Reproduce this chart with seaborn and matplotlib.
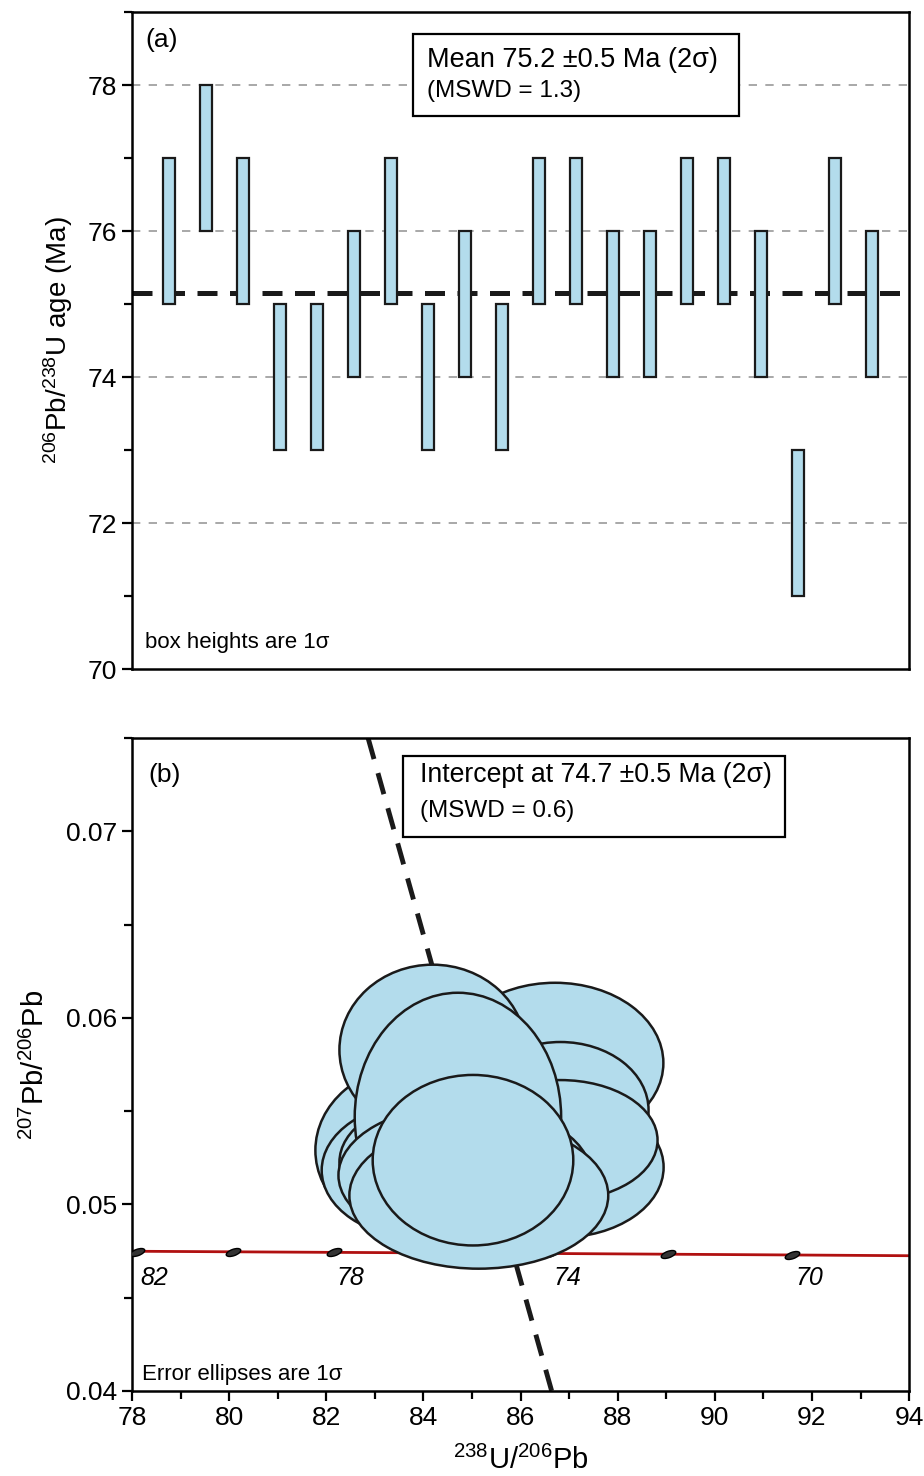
import numpy as np
import matplotlib
matplotlib.use("Agg")
import matplotlib.pyplot as plt
from matplotlib.patches import Ellipse, Rectangle
from matplotlib.markers import MarkerStyle
from matplotlib.transforms import Affine2D
import seaborn as sns
import pandas as pd

# (a) 206Pb/238U spot ages, box half-height = 1 sigma
spot_no = [1, 2, 3, 4, 5, 6, 7, 8, 9, 10, 11, 12, 13, 14, 15, 16, 17, 18, 19, 20]
spot_age = [76, 77, 76, 74, 74, 75, 76, 74, 75, 74, 76, 76, 75, 75, 76, 76, 75, 72, 76, 75]
spot_err = [1, 1, 1, 1, 1, 1, 1, 1, 1, 1, 1, 1, 1, 1, 1, 1, 1, 1, 1, 1]
mean_age = 75.15

# (b) Tera-Wasserburg error ellipses (drawn back to front)
ell_u = [86.71, 86.82, 86.82, 86.82, 83.84, 83.97, 84.19, 84.13, 84.71, 84.85, 85.14, 85.02]
ell_pb = [0.05758, 0.05505, 0.05199, 0.05344, 0.05290, 0.05183, 0.05828, 0.05226,
          0.05468, 0.05156, 0.05048, 0.05237]
ell_w = [4.46, 3.63, 4.25, 4.00, 4.13, 4.13, 3.84, 3.72, 4.25, 5.20, 5.33, 4.13]
ell_h = [0.0086, 0.00731, 0.00753, 0.00645, 0.00914, 0.00731, 0.00914, 0.00645,
         0.01333, 0.00753, 0.00785, 0.00914]

# concordia curve and age marks (Ma)
curve_u = [78.0, 82.15, 86.61, 91.59, 94.0]
curve_pb = [0.04749, 0.04743, 0.04737, 0.04729, 0.04725]
conc_age = [82, 80, 78, 76, 74, 72, 70]
conc_u = [78.11, 80.08, 82.15, 84.32, 86.61, 89.03, 91.59]
conc_pb = [0.04747, 0.04745, 0.04743, 0.04740, 0.04737, 0.04733, 0.04729]
label_age = [82, 78, 74, 70]

# discordia
disc_u = [82.86, 86.64]
disc_pb = [0.075, 0.040]

fill = "#b3dcec"

sns.set_style("ticks")
plt.rcParams["font.family"] = ["Liberation Sans", "DejaVu Sans"]
plt.rcParams["mathtext.fontset"] = "custom"
plt.rcParams["mathtext.rm"] = "Liberation Sans"
plt.rcParams["mathtext.default"] = "regular"
plt.rcParams["text.color"] = "black"
plt.rcParams["axes.labelcolor"] = "black"
plt.rcParams["xtick.color"] = "black"
plt.rcParams["ytick.color"] = "black"

fig = plt.figure(figsize=(9.24, 14.76), dpi=100)
ax1 = fig.add_axes([0.1429, 0.5467, 0.841, 0.4451])
ax2 = fig.add_axes([0.1429, 0.0576, 0.841, 0.4424])

for ax in (ax1, ax2):
    for s in ax.spines.values():
        s.set_linewidth(1.8)
        s.set_color("black")
    ax.tick_params(axis="both", which="both", direction="out", width=1.6,
                   labelsize=19, colors="black")
    ax.tick_params(which="major", length=7)
    ax.tick_params(which="minor", length=6)

# ---- panel (a)
for g in [72, 74, 76, 78]:
    ax1.axhline(g, color="#999999", lw=1.2, dashes=(5, 5), zorder=1)
ax1.axhline(mean_age, color="#1a1a1a", lw=3.6, dashes=(4, 2.5), zorder=2)
bottoms = [a - e for a, e in zip(spot_age, spot_err)]
heights = [2 * e for e in spot_err]
ax1.bar(spot_no, heights, bottom=bottoms, width=0.32, color=fill,
        edgecolor="#1a1a1a", linewidth=1.6, zorder=3)
ax1.set_xlim(0, 21)
ax1.set_ylim(70, 79)
ax1.set_xticks([])
ax1.set_yticks([70, 72, 74, 76, 78])
ax1.set_yticks([71, 73, 75, 77, 79], minor=True)
ax1.set_ylabel("$^{206}$Pb/$^{238}$U age (Ma)", fontsize=20, labelpad=9)

ax1.text(0.0167, 0.957, "(a)", transform=ax1.transAxes, fontsize=19, va="center")
ax1.add_patch(Rectangle((0.3616, 0.8417), 0.4196, 0.1248, transform=ax1.transAxes,
                        facecolor="white", edgecolor="black", lw=1.6, zorder=5))
ax1.text(0.3797, 0.927, "Mean 75.2 \u00b10.5 Ma (2\u03c3)", transform=ax1.transAxes,
         fontsize=19.5, va="center", zorder=6)
ax1.text(0.3797, 0.880, "(MSWD = 1.3)", transform=ax1.transAxes,
         fontsize=17.5, va="center", zorder=6)
ax1.text(0.0167, 0.040, "box heights are 1\u03c3", transform=ax1.transAxes,
         fontsize=16, va="center")

# ---- panel (b)
ax2.plot(disc_u, disc_pb, color="#1a1a1a", lw=3.5, dashes=(4.5, 3), zorder=1)
df_curve = pd.DataFrame({"u": curve_u, "pb": curve_pb})
sns.lineplot(data=df_curve, x="u", y="pb", ax=ax2, color="#b01010", lw=2,
             sort=False, zorder=2)
for x, y, w, h in zip(ell_u, ell_pb, ell_w, ell_h):
    ax2.add_patch(Ellipse((x, y), w, h, facecolor=fill, edgecolor="#1a1a1a",
                          lw=1.8, zorder=4))
mk = MarkerStyle("o", transform=Affine2D().scale(1.0, 0.42).rotate_deg(20))
ax2.plot(conc_u, conc_pb, ls="none", marker=mk, ms=11, color="#333333",
         mec="black", mew=1.0, zorder=3)
for a, x in zip(conc_age, conc_u):
    if a in label_age:
        ax2.text(x + 0.35, 0.04608, str(a), fontsize=18, style="italic",
                 ha="center", va="center")

ax2.set_xlim(78, 94)
ax2.set_ylim(0.04, 0.075)
ax2.set_xticks(np.arange(78, 95, 2))
ax2.set_xticks(np.arange(79, 94, 2), minor=True)
ax2.set_yticks([0.04, 0.05, 0.06, 0.07])
ax2.set_yticks([0.045, 0.055, 0.065, 0.075], minor=True)
ax2.set_yticklabels(["0.04", "0.05", "0.06", "0.07"])
ax2.set_xlabel("$^{238}$U/$^{206}$Pb", fontsize=21, labelpad=12)
ax2.set_ylabel("$^{207}$Pb/$^{206}$Pb", fontsize=21, labelpad=12)

ax2.text(0.0206, 0.943, "(b)", transform=ax2.transAxes, fontsize=19, va="center")
ax2.add_patch(Rectangle((0.3488, 0.8484), 0.4916, 0.124, transform=ax2.transAxes,
                        facecolor="white", edgecolor="black", lw=1.6, zorder=5))
ax2.text(0.3707, 0.9433, "Intercept at 74.7 \u00b10.5 Ma (2\u03c3)", transform=ax2.transAxes,
         fontsize=19.2, va="center", zorder=6)
ax2.text(0.3707, 0.888, "(MSWD = 0.6)", transform=ax2.transAxes,
         fontsize=17.5, va="center", zorder=6)
ax2.text(0.0129, 0.0245, "Error ellipses are 1\u03c3", transform=ax2.transAxes,
         fontsize=16, va="center")

fig.savefig("out.png", dpi=100)
